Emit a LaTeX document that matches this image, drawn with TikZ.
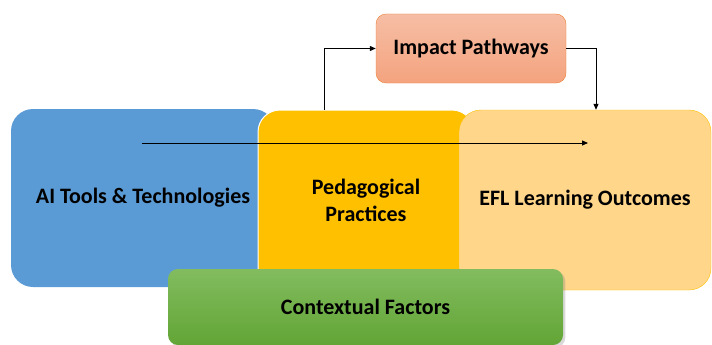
\documentclass[tikz,border=0pt]{standalone}
\usepackage{fontspec}
\setmainfont{Carlito}
\usetikzlibrary{arrows.meta, positioning, shadows}

\definecolor{aiblue}{HTML}{5B9BD5}
\definecolor{pedyellow}{HTML}{FFC000}
\definecolor{eflorange}{HTML}{FFD68A}
\definecolor{impacttop}{HTML}{F6BEA5}
\definecolor{impactbot}{HTML}{F4A37E}
\definecolor{impactline}{HTML}{ED7D31}
\definecolor{ctxtop}{HTML}{82BC5F}
\definecolor{ctxbot}{HTML}{62A535}

\begin{document}
\begin{tikzpicture}[x=1pt, y=-1pt,
    block/.style={rounded corners=22pt, inner sep=0pt, align=center,
        font=\bfseries\fontsize{22}{27}\selectfont},
    smallblock/.style={rounded corners=10pt, inner sep=0pt, align=center,
        font=\bfseries\fontsize{22}{27}\selectfont},
    link/.style={-{Triangle[length=6pt,width=5pt]}, line width=1pt}]
    \useasboundingbox (0,0) rectangle (712,345);

    % main blocks, left to right
    \node[block, fill=aiblue, minimum width=264pt, minimum height=178pt] (ai) at (143,198) {AI Tools \& Technologies};
    \node[block, fill=pedyellow, draw=white, line width=1pt, minimum width=216pt, minimum height=180pt] (ped) at (366,200) {Pedagogical\\Practices};
    \node[block, fill=eflorange, draw=pedyellow, minimum width=252pt, minimum height=180pt] (efl) at (585,200) {EFL Learning Outcomes};

    % pathway box on top
    \node[smallblock, top color=impacttop, bottom color=impactbot, draw=impactline, minimum width=190pt, minimum height=69pt] (impact) at (471,48.5) {Impact Pathways};

    % context bar at the bottom
    \node[smallblock, top color=ctxtop, bottom color=ctxbot, drop shadow={opacity=0.3}, minimum width=395pt, minimum height=76pt] (ctx) at (365.5,307) {Contextual Factors};

    % connectors
    \coordinate (flowstart) at (142,143);
    \coordinate (flowend) at (588,143);
    \draw[link] (flowstart) -- (flowend);
    \draw[link] ([xshift=-42pt]ped.north) |- (impact.west);
    \draw[link] (impact.east) -| ([xshift=11pt]efl.north);
\end{tikzpicture}
\end{document}
